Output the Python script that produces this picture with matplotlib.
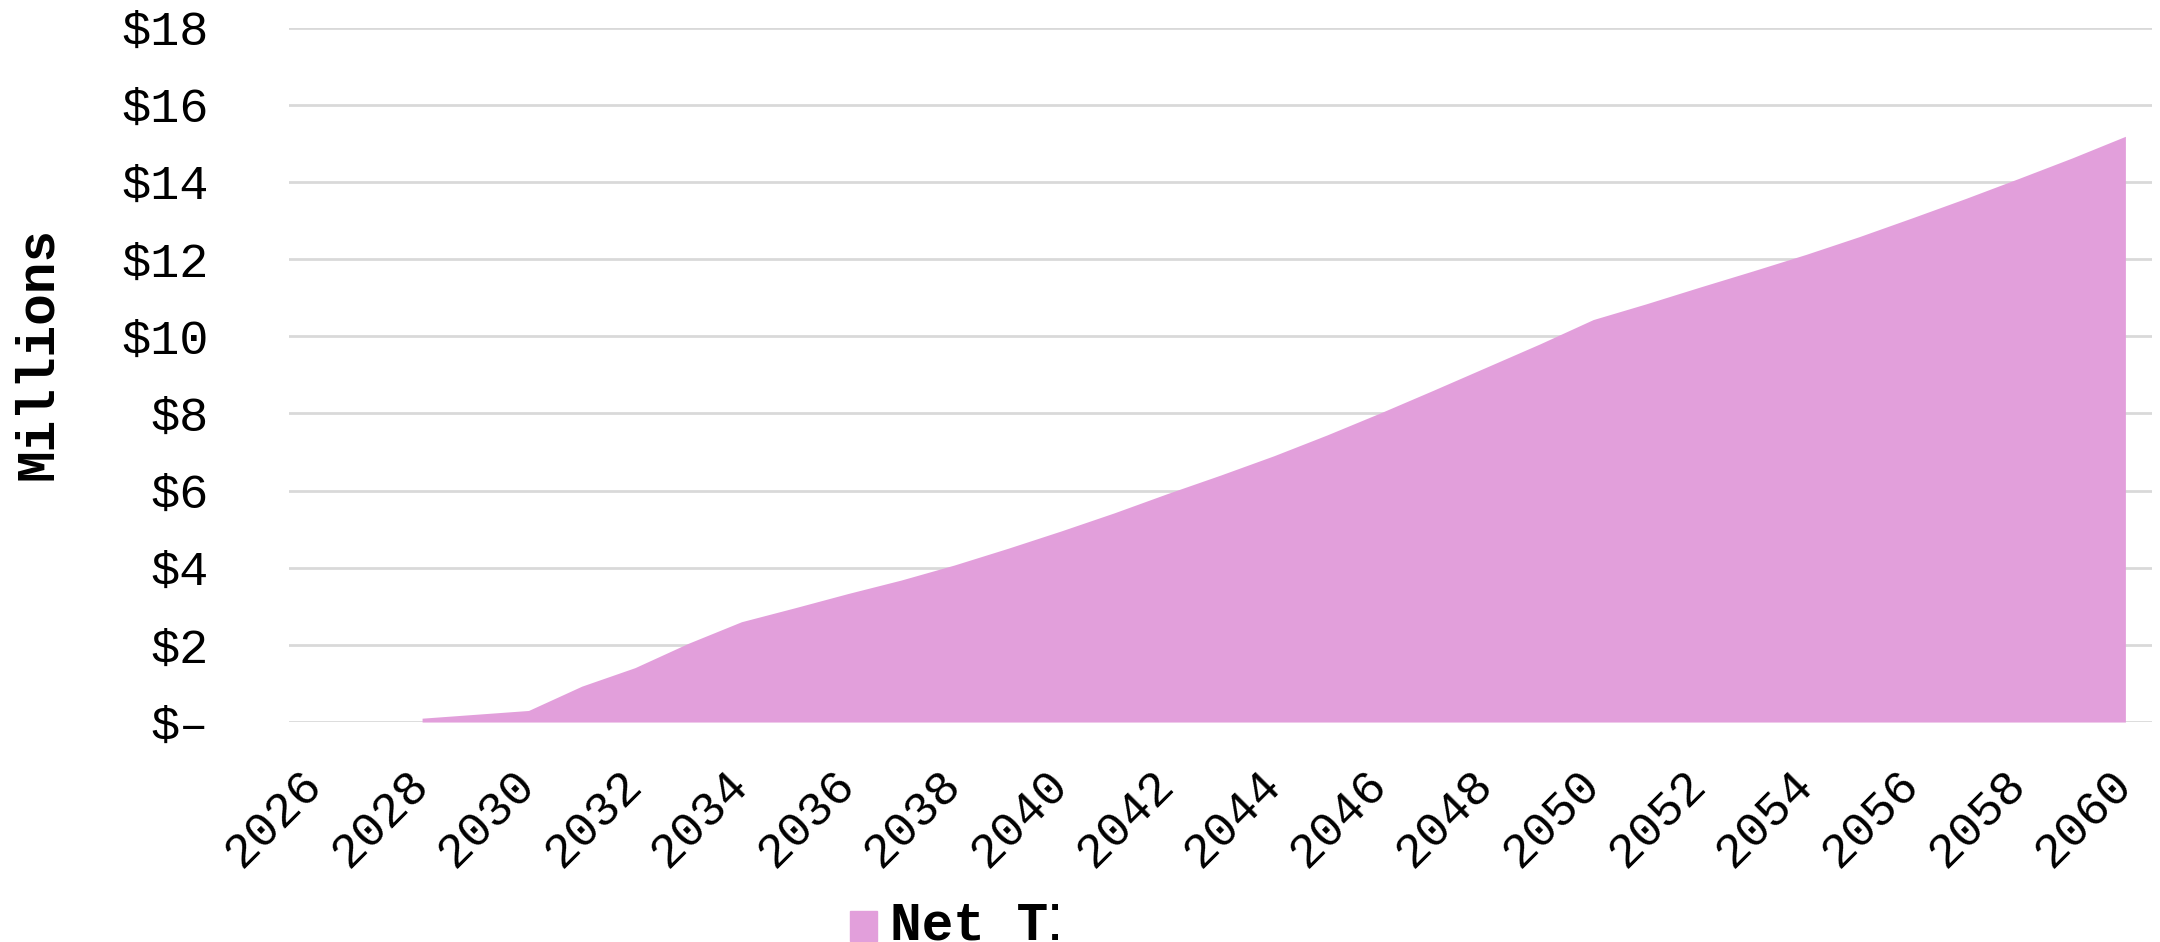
import numpy as np
import matplotlib
matplotlib.use("Agg")
import matplotlib.pyplot as plt
from matplotlib.transforms import Bbox, TransformedBbox
from matplotlib.patches import Rectangle

# values, in $ millions (2026-2027 empty)
years = list(range(2026, 2061))
net_total = [np.nan, np.nan, 0.1, 0.2, 0.3, 0.93, 1.41, 2.04, 2.6, 2.96,
             3.33, 3.68, 4.07, 4.5, 4.95, 5.42, 5.92, 6.4, 6.9, 7.44,
             8.01, 8.6, 9.2, 9.8, 10.43, 10.84, 11.27, 11.69, 12.12, 12.58,
             13.07, 13.57, 14.09, 14.62, 15.18]
y_ticks = [0, 2, 4, 6, 8, 10, 12, 14, 16, 18]
y_labels = ["$–"] + ["$%d" % v for v in y_ticks[1:]]
x_ticks = years[::2]
legend_label = "Net TIF"

fill_color = "#E29FDB"
grid_color = "#D9D9D9"
mono = ["Liberation Mono", "DejaVu Sans Mono"]

fig = plt.figure(figsize=(21.6, 9.42), dpi=100)
ax = fig.add_axes([0.1338, 0.2335, 0.8625, 0.7373])

vals = np.array(net_total, dtype=float)
mask = ~np.isnan(vals)
ax.fill_between(np.array(years)[mask], 0, vals[mask], color=fill_color, lw=0)

ax.set_xlim(2025.5, 2060.5)
ax.set_ylim(0, 18)
ax.set_yticks(y_ticks)
ax.set_yticklabels(y_labels, family=mono, fontsize=35)
ax.set_xticks(x_ticks)
ax.set_xticklabels([str(y) for y in x_ticks], family=mono, fontsize=35,
                   rotation=45, ha="right", va="center",
                   rotation_mode="anchor")
ax.tick_params(axis="y", length=0, pad=58)
ax.tick_params(axis="x", length=0, pad=40)
ax.grid(axis="y", color=grid_color, lw=2)
ax.set_axisbelow(True)
for s in ax.spines.values():
    s.set_visible(False)

fig.text(38 / 2160, 1 - 354 / 942, "Millions", rotation=90, family=mono,
         fontweight="bold", fontsize=38, ha="center", va="center")

# legend: swatch + label cut off as in the original
fig.patches.append(Rectangle((850 / 2160, 1 - 941 / 942), 27 / 2160, 30 / 942,
                             transform=fig.transFigure, color=fill_color))
t = fig.text(890 / 2160, 1 - 940 / 942, legend_label, family=mono,
             fontweight="bold", fontsize=38, ha="left", va="baseline")
t.set_clip_on(True)
t.set_clip_box(TransformedBbox(Bbox.from_extents(0, 0, 1058 / 2160, 1),
                               fig.transFigure))

fig.savefig("out.png", dpi=100)
